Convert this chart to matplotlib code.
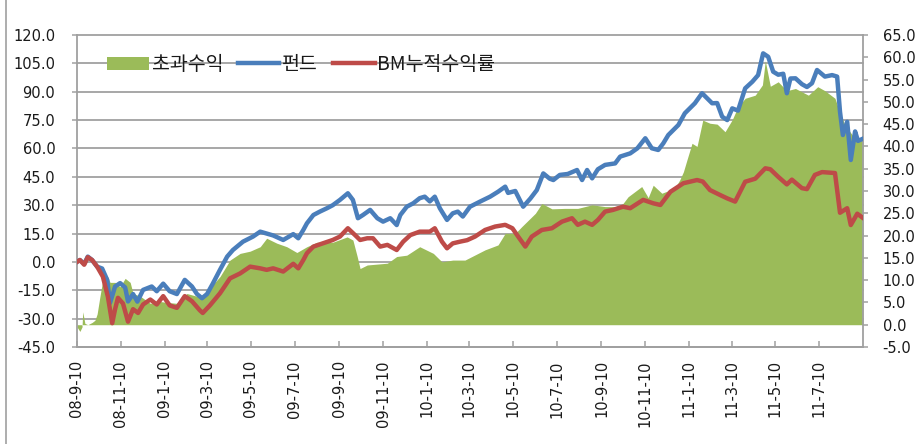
import matplotlib
matplotlib.use('Agg')
import matplotlib.pyplot as plt
from matplotlib.patches import Patch
from matplotlib.lines import Line2D
from matplotlib.transforms import blended_transform_factory
import pandas as pd
import numpy as np

START = '2008-09-10'
END = '2011-09-09'

# Fund cumulative return (left axis), days since START
fund_day = [0, 4, 10, 15, 21, 28, 35, 42, 46, 53, 60, 67, 71, 78, 84, 92, 104, 111, 120, 129,
            139, 150, 160, 167, 174, 181, 189, 199, 209, 217, 231, 245, 255, 264, 273, 287, 301, 308, 315, 320,
            329, 338, 348, 356, 366, 377, 384, 391, 398, 408, 418, 426, 436, 445, 450, 459, 468, 477, 484, 491,
            498, 505, 515, 523, 530, 537, 547, 561, 575, 586, 596, 600, 610, 621, 631, 640, 649, 658, 663, 672,
            683, 696, 703, 710, 717, 725, 735, 749, 756, 770, 780, 791, 800, 809, 816, 823, 837, 846, 860, 870,
            884, 891, 898, 905, 912, 920, 930, 940, 948, 955, 962, 969, 976, 983, 988, 993, 1000, 1009, 1016, 1023,
            1030, 1041, 1051, 1058, 1062, 1066, 1072, 1077, 1083, 1087, 1093]
fund_val = [0.0, 1.0, -1.0, 2.8, 1.0, -2.5, -3.5, -9.5, -21.7, -13.0, -11.2, -13.5, -20.9, -17.0, -21.0, -14.8, -13.0, -15.5, -11.5, -15.5,
            -17.0, -9.5, -13.0, -17.0, -19.2, -17.0, -11.5, -4.2, 2.8, 6.3, 10.7, 13.4, 16.0, 15.0, 14.0, 11.6, 14.7, 12.5, 16.9, 20.4,
            24.8, 26.6, 28.4, 30.0, 32.8, 36.3, 32.8, 23.1, 24.8, 27.5, 23.1, 21.3, 23.1, 19.5, 24.8, 29.2, 31.0, 33.7, 34.5, 32.0,
            34.5, 28.4, 22.2, 25.7, 26.6, 24.0, 29.2, 31.9, 34.5, 37.1, 39.8, 36.5, 37.5, 29.2, 33.5, 38.0, 46.8, 44.0, 43.3, 46.0,
            46.5, 48.6, 43.3, 48.6, 44.2, 49.0, 51.3, 52.1, 55.7, 57.4, 60.1, 65.4, 60.1, 59.2, 62.7, 67.1, 72.4, 78.6, 83.9, 89.2,
            83.9, 84.0, 76.8, 75.0, 81.2, 80.0, 91.8, 95.3, 98.8, 110.3, 108.5, 100.6, 99.0, 99.5, 89.2, 97.0, 97.1, 94.0, 92.5, 94.5,
            101.5, 98.0, 98.8, 98.0, 79.4, 67.1, 74.1, 53.9, 69.0, 64.0, 65.0]

# Benchmark cumulative return (left axis)
bm_day = [0, 4, 10, 15, 21, 28, 36, 43, 49, 53, 57, 64, 71, 78, 85, 92, 102, 111, 120, 129,
          139, 150, 160, 171, 175, 185, 199, 213, 227, 241, 255, 264, 273, 287, 301, 308, 315, 320, 329, 342,
          356, 366, 377, 387, 394, 404, 412, 422, 432, 445, 454, 464, 477, 491, 498, 508, 515, 523, 533, 543,
          554, 568, 582, 596, 606, 614, 624, 633, 647, 661, 675, 689, 697, 707, 717, 725, 735, 746, 760, 770,
          788, 802, 812, 826, 844, 863, 871, 881, 895, 905, 916, 930, 944, 958, 965, 976, 988, 995, 1009, 1016,
          1027, 1037, 1055, 1062, 1072, 1077, 1086, 1093]
bm_val = [0.0, 1.0, -1.5, 2.5, 1.0, -2.5, -7.8, -18.4, -32.4, -25.0, -19.0, -22.0, -31.6, -25.0, -27.0, -22.5, -19.9, -22.5, -18.1, -23.0,
          -24.3, -18.1, -20.8, -25.6, -27.0, -23.0, -16.6, -8.7, -6.1, -2.5, -3.4, -4.2, -3.4, -5.1, -1.0, -3.4, 1.0, 4.6, 8.1, 9.8,
          11.6, 13.4, 17.8, 14.2, 11.6, 12.5, 12.5, 8.1, 9.0, 6.3, 10.7, 14.2, 16.0, 16.0, 17.8, 10.7, 7.2, 9.8, 10.7, 11.5,
          13.4, 16.9, 18.7, 19.6, 17.8, 13.4, 8.1, 13.4, 16.9, 17.8, 21.3, 23.1, 19.6, 21.3, 19.6, 22.2, 26.6, 27.5, 29.2, 28.4,
          32.8, 31.0, 30.1, 37.1, 41.6, 43.3, 42.5, 38.0, 35.4, 33.6, 31.9, 42.4, 44.0, 49.5, 49.0, 45.0, 41.0, 43.5, 39.0, 38.5,
          46.0, 47.5, 47.0, 26.0, 28.4, 19.5, 25.5, 23.5]

# Excess return (right axis)
excess_day = [0, 4, 7, 8, 11, 15, 21, 25, 28, 32, 36, 42, 46, 53, 60, 67, 74, 78, 88, 102,
              116, 125, 139, 153, 171, 181, 199, 213, 227, 241, 255, 264, 278, 292, 306, 320, 334, 356, 376, 384,
              390, 394, 404, 432, 445, 459, 477, 496, 508, 523, 540, 568, 586, 596, 610, 619, 638, 647, 661, 679,
              697, 717, 735, 749, 759, 767, 786, 795, 802, 814, 832, 839, 844, 849, 856, 863, 871, 881, 891, 902,
              912, 920, 930, 944, 954, 958, 965, 976, 988, 1000, 1018, 1031, 1041, 1055, 1062, 1069, 1079, 1087, 1094]
excess_val = [-0.5, -1.5, -0.5, 2.9, 0.3, 0.0, 0.5, 1.0, 2.4, 6.4, 10.1, 11.0, 9.5, 9.5, 8.5, 10.4, 9.5, 7.0, 6.4, 4.8,
              5.2, 5.0, 4.8, 7.0, 6.2, 7.5, 10.8, 14.5, 16.0, 16.5, 17.5, 19.4, 18.3, 17.5, 16.2, 17.5, 18.5, 18.5, 19.7, 19.0,
              15.3, 12.6, 13.4, 13.8, 15.3, 15.6, 17.5, 16.0, 14.1, 14.5, 14.5, 16.8, 17.9, 20.5, 20.5, 22.0, 25.0, 27.2, 26.0, 26.1,
              26.1, 26.9, 26.5, 26.5, 27.0, 28.7, 31.0, 28.5, 31.3, 29.5, 30.6, 32.5, 34.3, 37.0, 40.7, 40.0, 45.9, 45.2, 45.0, 43.3,
              46.0, 48.9, 50.8, 51.5, 53.8, 59.2, 53.5, 54.5, 52.5, 53.0, 51.5, 53.4, 52.5, 50.8, 47.5, 44.8, 42.6, 41.5, 41.8]

series_names = ['초과수익', '펀드', 'BM누적수익률']

tick_dates = ['2008-09-10', '2008-11-10', '2009-01-10', '2009-03-10', '2009-05-10', '2009-07-10',
              '2009-09-10', '2009-11-10', '2010-01-10', '2010-03-10', '2010-05-10', '2010-07-10',
              '2010-09-10', '2010-11-10', '2011-01-10', '2011-03-10', '2011-05-10', '2011-07-10']
tick_labels = ['08-9-10', '08-11-10', '09-1-10', '09-3-10', '09-5-10', '09-7-10',
               '09-9-10', '09-11-10', '10-1-10', '10-3-10', '10-5-10', '10-7-10',
               '10-9-10', '10-11-10', '11-1-10', '11-3-10', '11-5-10', '11-7-10']

left_ticks = [-45, -30, -15, 0, 15, 30, 45, 60, 75, 90, 105, 120]
right_ticks = [-5, 0, 5, 10, 15, 20, 25, 30, 35, 40, 45, 50, 55, 60, 65]

GREEN = '#9BBB59'
BLUE = '#4A7EBB'
RED = '#BE4B48'
GRID = '#A0A0A0'
TEXT = '#1a1a1a'

start = pd.Timestamp(START)
fund_x = start + pd.to_timedelta(fund_day, unit='D')
bm_x = start + pd.to_timedelta(bm_day, unit='D')
ex_x = start + pd.to_timedelta(excess_day, unit='D')

fig = plt.figure(figsize=(9.18, 4.44), dpi=100)
fig.patch.set_facecolor('white')
ax = fig.add_axes([77 / 918, 97 / 444, 786 / 918, 312 / 444])
axr = ax.twinx()
ax.set_zorder(2)
axr.set_zorder(1)
ax.patch.set_visible(False)
axr.patch.set_facecolor('white')

ax.set_xlim(start, pd.Timestamp(END))
ax.set_ylim(-45, 120)
axr.set_ylim(-5, 65)

# gridlines (left-axis positions) drawn behind the area
gtr = blended_transform_factory(axr.transAxes, ax.transData)
for v in left_ticks:
    axr.plot([0, 1], [v, v], transform=gtr, color=GRID, lw=1.3, zorder=0.5, clip_on=False)

axr.fill_between(ex_x, 0, excess_val, color=GREEN, lw=0, zorder=2)

ax.plot(fund_x, fund_val, color=BLUE, lw=3.2, zorder=3, solid_joinstyle='round')
ax.plot(bm_x, bm_val, color=RED, lw=3.2, zorder=4, solid_joinstyle='round')

# spines
for s in ['top', 'right']:
    ax.spines[s].set_visible(False)
for s in ['left', 'bottom']:
    ax.spines[s].set_color(GRID)
    ax.spines[s].set_linewidth(1.3)
for s in ['top', 'left', 'bottom']:
    axr.spines[s].set_visible(False)
axr.spines['right'].set_color(GRID)
axr.spines['right'].set_linewidth(1.3)

ax.set_yticks(left_ticks)
ax.set_yticklabels([f'{v:.1f}' for v in left_ticks])
axr.set_yticks(right_ticks)
axr.set_yticklabels([f'{v:.1f}' for v in right_ticks])
ax.set_xticks(pd.to_datetime(tick_dates))
ax.set_xticklabels(tick_labels, rotation=90, ha='center', va='top')

ax.tick_params(axis='y', direction='out', length=3.6, width=1.1, color=GRID, pad=12,
               labelsize=10.5, labelcolor=TEXT)
axr.tick_params(axis='y', direction='out', length=3.6, width=1.1, color=GRID, pad=10.5,
                labelsize=10.5, labelcolor=TEXT)
ax.tick_params(axis='x', direction='in', length=4.3, width=1.1, color=GRID, pad=9.5,
               labelsize=10.5, labelcolor=TEXT)

handles = [Patch(facecolor=GREEN, edgecolor='none'),
           Line2D([], [], color=BLUE, lw=3.2),
           Line2D([], [], color=RED, lw=3.2)]
leg = ax.legend(handles, series_names, ncol=3, loc='center left', bbox_to_anchor=(0.038, 0.905),
                frameon=False, borderpad=0, borderaxespad=0, handlelength=2.15, handleheight=0.7,
                handletextpad=0.15, columnspacing=0.75,
                prop={'family': ['Noto Sans CJK KR', 'DejaVu Sans'], 'size': 14})
for t in leg.get_texts():
    t.set_color(TEXT)

fig.add_artist(Line2D([6 / 918, 6 / 918], [0, 1], transform=fig.transFigure, color=GRID, lw=1.2))

fig.savefig('out.png', dpi=100)
